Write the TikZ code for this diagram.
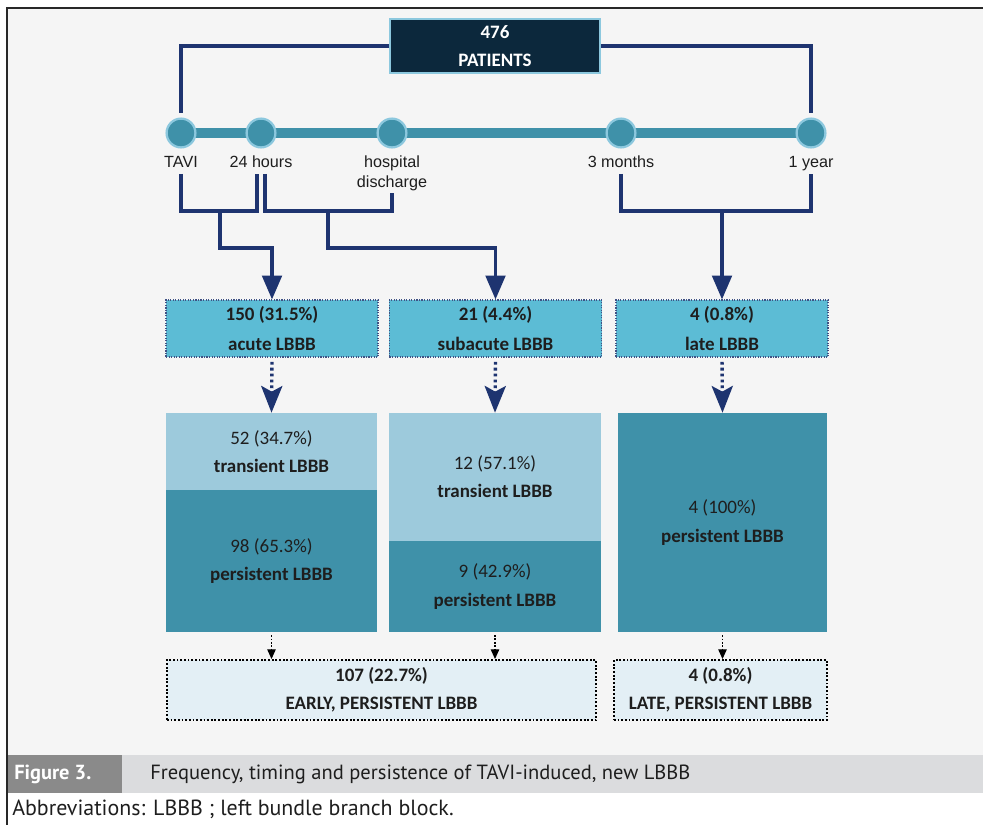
\documentclass[tikz,border=0pt]{standalone}
\usepackage{fontspec}
\setmainfont{Carlito}
\newfontfamily\tlfont{Liberation Sans}
\newfontfamily\capfont{PT Sans}
\usetikzlibrary{
  arrows.meta,
  positioning, calc,
  backgrounds
}
\usepackage{xcolor}

\definecolor{navy}{RGB}{30,52,112}
\definecolor{navybox}{RGB}{12,40,60}
\definecolor{tealbar}{RGB}{63,145,169}
\definecolor{ringblue}{RGB}{140,200,222}
\definecolor{cyanbox}{RGB}{92,188,213}
\definecolor{lightbox}{RGB}{157,202,220}
\definecolor{palebox}{RGB}{227,239,245}
\definecolor{bggray}{RGB}{245,245,245}
\definecolor{bandgray}{RGB}{219,220,222}
\definecolor{labelgray}{RGB}{138,138,138}
\definecolor{framegray}{RGB}{40,40,40}
\definecolor{inktext}{RGB}{30,30,30}

\begin{document}
\begin{tikzpicture}[x=0.025cm, y=-0.025cm, >=Stealth,
  link/.style={navy, line width=2.2pt},
  bigtip/.style={-{Triangle[width=14pt,length=17pt]}},
  dotlink/.style={navy, line width=2.4pt, dash pattern=on 2pt off 2.2pt,
    -{Stealth[width=15pt,length=19pt,inset=4pt]}},
  smalldot/.style={black, line width=1pt, dash pattern=on 1.2pt off 1.2pt,
    -{Triangle[width=6pt,length=7pt]}},
  milestone/.style={circle, fill=tealbar, draw=ringblue, line width=1.6pt,
    minimum size=0.72cm, inner sep=0pt},
  tllabel/.style={font=\tlfont\fontsize{11.5}{14}\selectfont, text=inktext,
    inner sep=2pt, align=center},
  oneline/.style={text height=8.5pt, text depth=2.5pt},
  boxtext/.style={font=\fontsize{13.5}{20}\selectfont, text=inktext, align=center, inner sep=0pt},
  onset/.style={boxtext, font=\fontsize{13.5}{21}\selectfont\bfseries, fill=cyanbox,
    draw=navy!85, densely dotted, line width=0.8pt, minimum width=5.3cm, minimum height=1.425cm},
  transient/.style={boxtext, fill=lightbox},
  persistent/.style={boxtext, fill=tealbar},
  outcome/.style={boxtext, font=\fontsize{13.5}{20}\selectfont\bfseries, fill=palebox,
    draw=black, line width=1.3pt, dash pattern=on 1.3pt off 1.3pt, minimum height=1.5cm}
]
  \useasboundingbox (0,0) rectangle (983,825);

  % Frame and caption
  \fill[bandgray] (7,755) rectangle (983,793);
  \fill[labelgray] (7,755) rectangle (122,793);
  \draw[framegray, line width=1pt] (983,8) -- (7,8) -- (7,825);
  \node[anchor=west, inner sep=0pt, text=white, font=\capfont\bfseries\fontsize{14.5}{16}\selectfont]
    (figlabel) at (14,774) {Figure 3.};
  \node[anchor=west, inner sep=0pt, text=inktext, font=\capfont\fontsize{14.6}{16}\selectfont]
    (figcaption) at (150,774) {Frequency, timing and persistence of TAVI-induced, new LBBB};
  \node[anchor=west, inner sep=0pt, text=inktext, font=\capfont\fontsize{15.6}{18}\selectfont]
    (abbrev) at (12,809) {Abbreviations: LBBB ; left bundle branch block.};

  % Patients
  \node[fill=navybox, draw=ringblue, line width=1.2pt, minimum width=5.25cm, minimum height=1.35cm,
    text=white, align=center, inner sep=0pt, font=\fontsize{13.5}{20}\selectfont\bfseries]
    (patients) at (495,46) {476\\PATIENTS};

  % Timeline
  \node[milestone] (tavi) at (181,133) {};
  \node[milestone] (hrs)  at (261,133) {};
  \node[milestone] (dis)  at (392,133) {};
  \node[milestone] (mon)  at (621,133) {};
  \node[milestone] (year) at (811,133) {};
  \begin{scope}[on background layer]
    \fill[bggray] (7,8) rectangle (983,755);
    \draw[tealbar, line width=7.5pt] (tavi.center) -- (year.center);
  \end{scope}

  \node[tllabel, oneline] (taviL) at (181,163) {TAVI};
  \node[tllabel, oneline] (hrsL)  at (261,163) {24 hours};
  \node[tllabel] (disL) at (392,173) {hospital\\discharge};
  \node[tllabel, oneline] (monL)  at (621,163) {3 months};
  \node[tllabel, oneline] (yearL) at (811,163) {1 year};

  \draw[link, shorten >=3pt] (patients.west) -| (tavi.north);
  \draw[link, shorten >=3pt] (patients.east) -| (year.north);

  % Onset of LBBB
  \node[onset] (acute)    at (272,328.5) {150 (31.5\%)\\acute LBBB};
  \node[onset] (subacute) at (495.5,328.5) {21 (4.4\%)\\subacute LBBB};
  \node[onset] (late)     at (722,328.5) {4 (0.8\%)\\late LBBB};

  \coordinate (acuteJ) at (220,211);
  \coordinate (subJ)   at (328,211);
  \coordinate (lateJ)  at (722,211);
  \draw[link] (taviL.south) |- (acuteJ) -| ($(hrsL.south)+(-4,0)$);
  \draw[link, bigtip] (acuteJ) -- ++(0,37) -| (acute.north);
  \draw[link] ($(hrsL.south)+(4,0)$) |- (subJ) -| (disL.south);
  \draw[link, bigtip] (subJ) -- ++(0,37) -| (subacute.north);
  \draw[link] (monL.south) |- (lateJ) -| (yearL.south);
  \draw[link, bigtip] (lateJ) -- (late.north);

  % Transient / persistent split
  \node[transient, minimum width=5.275cm, minimum height=1.925cm] (transA) at (271.5,451.5)
    {52 (34.7\%)\\\textbf{transient LBBB}};
  \node[persistent, minimum width=5.275cm, minimum height=3.55cm] (persA) at (271.5,561)
    {98 (65.3\%)\\\textbf{persistent LBBB}};
  \node[transient, minimum width=5.3cm, minimum height=3.2cm] (transB) at (495,477)
    {12 (57.1\%)\\\textbf{transient LBBB}};
  \node[persistent, minimum width=5.3cm, minimum height=2.275cm] (persB) at (495,586.5)
    {9 (42.9\%)\\\textbf{persistent LBBB}};
  \node[persistent, minimum width=5.225cm, minimum height=5.475cm] (persC) at (722.5,522.5)
    {4 (100\%)\\\textbf{persistent LBBB}};

  \draw[dotlink, shorten <=3pt] (acute.south) -- (transA.north);
  \draw[dotlink, shorten <=3pt] (subacute.south) -- (transB.north);
  \draw[dotlink, shorten <=3pt] (late.south) -- (persC.north);

  % Final outcome
  \node[outcome, minimum width=10.725cm] (early) at (381.5,690) {107 (22.7\%)\\EARLY, PERSISTENT LBBB};
  \node[outcome, minimum width=5.325cm] (latepers) at (720.5,690) {4 (0.8\%)\\LATE, PERSISTENT LBBB};

  \draw[smalldot, shorten <=2pt] (persA.south) -- (persA.south |- early.north);
  \draw[smalldot, shorten <=2pt] (persB.south) -- (persB.south |- early.north);
  \draw[smalldot, shorten <=2pt] (persC.south) -- (persC.south |- latepers.north);
\end{tikzpicture}
\end{document}
